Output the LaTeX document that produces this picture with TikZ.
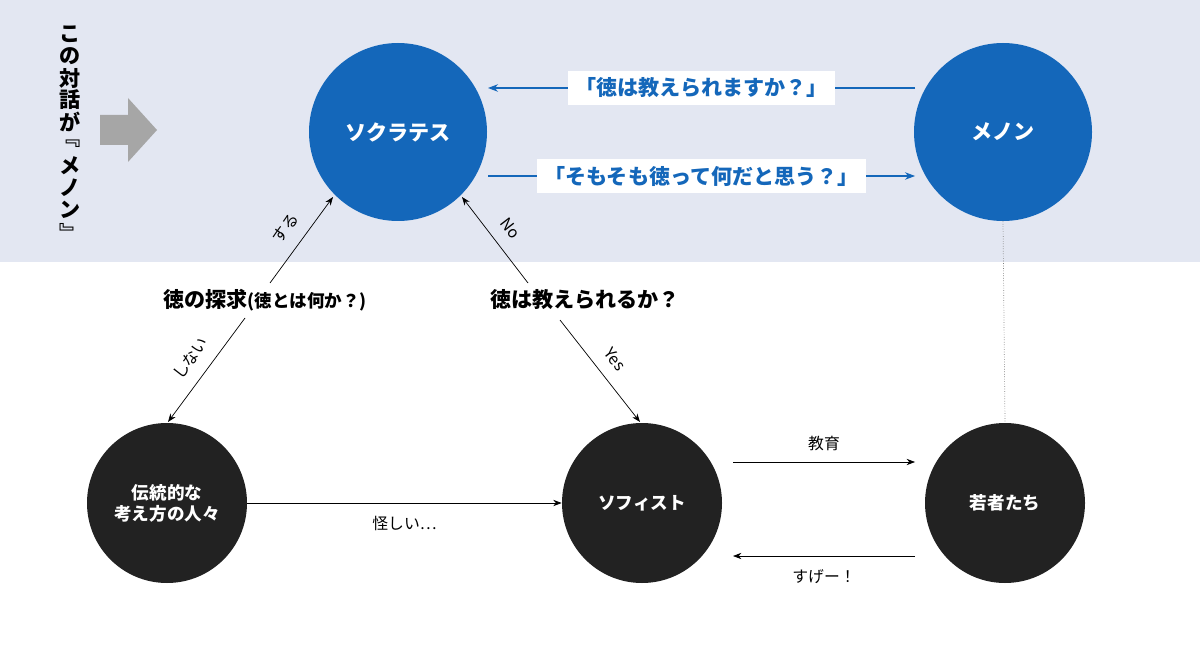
\documentclass[tikz,border=0pt]{standalone}
\usepackage{fontspec}
\setmainfont{Noto Sans CJK JP}
\usetikzlibrary{arrows.meta,positioning}
\definecolor{bandbg}{HTML}{E3E7F2}
\definecolor{sokblue}{HTML}{1467BA}
\definecolor{darkc}{HTML}{222222}
\begin{document}
\begin{tikzpicture}[x=0.02cm,y=-0.02cm,>=Stealth,
    blue circle/.style={circle,fill=sokblue,text=white,minimum size=178*0.02cm,font=\bfseries\large},
    dark circle/.style={circle,fill=darkc,text=white,minimum size=160*0.02cm,font=\bfseries,align=center},
    flow/.style={->,thin,black},
    bflow/.style={->,semithick,sokblue},
    qlabel/.style={fill=white,text=sokblue,font=\bfseries\large,inner sep=4pt}]
  \fill[white] (0,0) rectangle (1200,672);
  \fill[bandbg] (0,0) rectangle (1200,262);

  % left caption
  \foreach \ch [count=\i] in {こ,の,対,話,が,﹃,メ,ノ,ン,﹄}
    \node[font=\bfseries\large,inner sep=0pt] (title\i) at (70,12+22*\i) {\ch};
  \fill[gray!70] (100,115) -- (128,115) -- (128,98) -- (157,130) -- (128,162) -- (128,145) -- (100,145) -- cycle;

  % nodes
  \node[blue circle] (S) at (398,132) {ソクラテス};
  \node[blue circle] (M) at (1003,132) {メノン};
  \node[dark circle] (T) at (167,503) {伝統的な\\考え方の人々};
  \node[dark circle] (F) at (642,503) {ソフィスト};
  \node[dark circle] (Y) at (1005,503) {若者たち};

  \node[font=\bfseries\large] (q1) at (265,300) {徳の探求{\normalsize(徳とは何か？)}};
  \node[font=\bfseries\large] (q2) at (585,300) {徳は教えられるか？};

  % top dialogue
  \coordinate (m1) at (915,88);
  \coordinate (s1) at (488,88);
  \coordinate (s2) at (488,176);
  \coordinate (m2) at (915,176);
  \draw[bflow] (m1) -- node[qlabel] {「徳は教えられますか？」} (s1);
  \draw[bflow] (s2) -- node[qlabel] {「そもそも徳って何だと思う？」} (m2);
  \draw[densely dotted,gray] (M.south) -- (Y.north);

  % branches
  \draw[flow] (270,283) -- node[sloped,above=4pt,font=\small] {する} (333,197);
  \draw[flow] (245,318) -- node[sloped,above=4pt,font=\small] {しない} (168,422);
  \draw[flow] (528,283) -- node[sloped,above=4pt,font=\small] {No} (462,197);
  \draw[flow] (560,320) -- node[sloped,above=4pt,font=\small] {Yes} (640,422);

  \draw[flow] (T.east) -- node[below=4pt,font=\small] {怪しい…} (F.west);
  \draw[flow] (733,462) -- node[above=3pt,font=\small] {教育} (915,462);
  \draw[flow] (915,556) -- node[below=4pt,font=\small] {すげー！} (733,556);
\end{tikzpicture}
\end{document}
